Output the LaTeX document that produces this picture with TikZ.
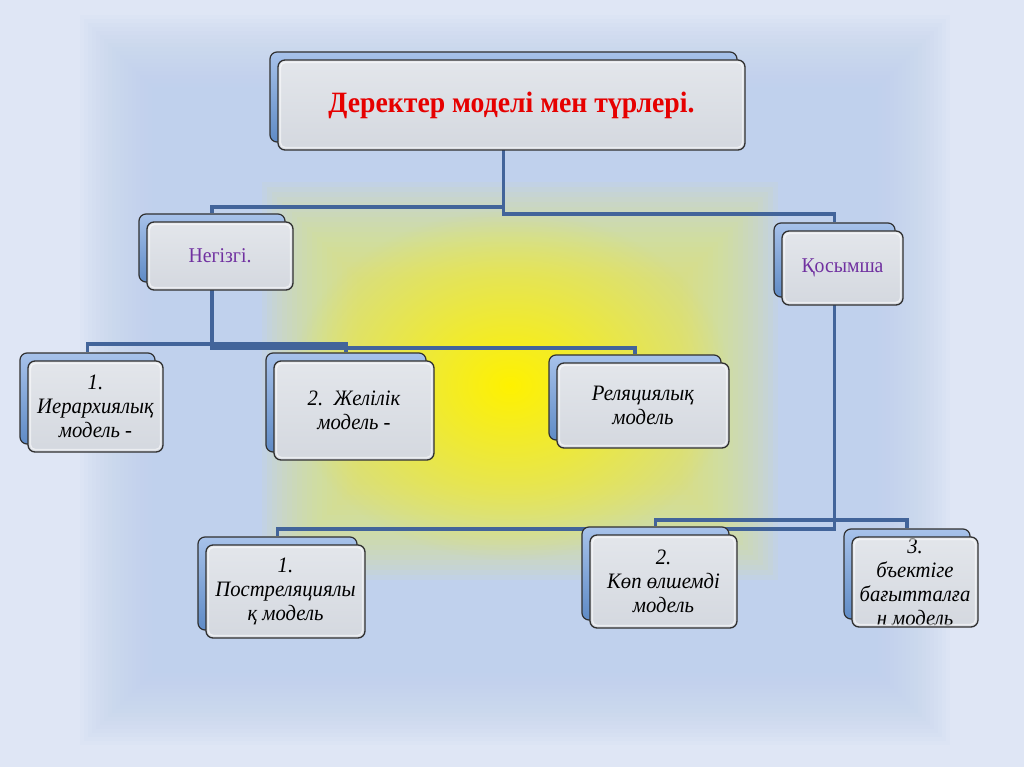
\documentclass[tikz,border=0pt]{standalone}
\usepackage{fontspec}
\setmainfont{Liberation Serif}[FakeStretch=0.94]
\usetikzlibrary{fadings,calc}
\definecolor{bgA}{HTML}{DFE6F5}
\definecolor{bgB}{HTML}{C0D1ED}
\definecolor{yel}{HTML}{E4EB70}
\definecolor{lineC}{HTML}{42649A}
\definecolor{frontT}{HTML}{E3E6EB}
\definecolor{frontB}{HTML}{D4D8DF}
\definecolor{backT}{HTML}{A7C2EA}
\definecolor{backB}{HTML}{5F8BC6}
\definecolor{edge}{HTML}{303030}
\definecolor{titleRed}{HTML}{E60000}
\definecolor{purp}{HTML}{7030A0}
\tikzfading[name=glowfade, inner color=transparent!0, outer color=transparent!100]
\pgfdeclarelayer{bg}
\pgfdeclarelayer{conn}
\pgfsetlayers{bg,conn,main}
\tikzset{
  backbox/.style={draw=edge, line width=1.2pt, rounded corners=7pt, top color=backT, bottom color=backB, inner sep=0pt},
  frontbox/.style={draw=edge, line width=1.3pt, rounded corners=7pt, top color=frontT, bottom color=frontB, inner sep=1pt, align=center, font=\fontsize{21}{24}\selectfont},
  shine/.style={draw=white, opacity=0.55, line width=1.5pt, rounded corners=5pt},
  conn/.style={draw=lineC, line width=3.6pt},
  plaintext/.style={text=black, font=\fontsize{22}{24}\selectfont\itshape},
  purptext/.style={text=purp},
  titletext/.style={text=titleRed, font=\fontsize{29.5}{32}\selectfont\bfseries}
}
\newcommand\twobox[7]{%
  \node[backbox, minimum width=#4pt, minimum height=#5pt] (#1b) at ({#2-8},{#3-8}) {};
  \node[frontbox, minimum width=#4pt, minimum height=#5pt, #6] (#1) at (#2,#3) {#7};
  \draw[shine] ([shift={(3pt,3pt)}]#1.south west) rectangle ([shift={(-3pt,-3pt)}]#1.north east);
}
\begin{document}
\begin{tikzpicture}[x=1pt,y=-1pt]
\useasboundingbox (0,0) rectangle (1024,767);
\begin{pgfonlayer}{bg}
  \fill[bgA] (0,0) rectangle (1024,767);
  \foreach \i in {0,...,19} {
    \fill[bgB, opacity=0.09] ({80+\i*4},{15+\i*4}) rectangle ({950-\i*4},{745-\i*4});
  }
  \foreach \i in {0,...,19} {
    \fill[yel, opacity=0.07] ({262+\i*5},{182+\i*5}) rectangle ({778-\i*5},{580-\i*5});
  }
  \fill[yellow, path fading=glowfade] (510,385) ellipse (220 and 175);
\end{pgfonlayer}

\twobox{t}{511.5}{105}{467}{90}{titletext}{Деректер моделі мен түрлері.}
\twobox{n}{220}{256}{146}{68}{purptext}{Негізгі.}
\twobox{q}{842.5}{268}{121}{74}{purptext}{Қосымша}
\twobox{h}{95.5}{406.5}{135}{91}{plaintext}{1.\\Иерархиялық\\модель -}
\twobox{z}{354}{410.5}{160}{99}{plaintext}{2.\ \ Желілік\\модель -}
\twobox{r}{643}{405.5}{172}{85}{plaintext}{Реляциялық\\модель}
\twobox{p}{285.5}{591.5}{159}{93}{plaintext}{1.\\Постреляциялы\\қ модель}
\twobox{k}{663.5}{581.5}{147}{93}{plaintext}{2.\\Көп өлшемді\\модель}
\twobox{o}{915}{582}{126}{90}{plaintext}{3.\\бъектіге\\бағытталға\\н модель}

\begin{pgfonlayer}{conn}
  \draw[conn] (tb.south) -- (tb.south |- 0,207) -| (nb.north);
  \draw[conn] (tb.south) -- (tb.south |- 0,214) -| (qb.north);
  \draw[conn] (nb.south) -- (nb.south |- 0,344) -| (hb.north);
  \draw[conn] (nb.south) -- (nb.south |- 0,344) -| (zb.north);
  \draw[conn] (nb.south) -- (nb.south |- 0,348) -| (rb.north);
  \draw[conn] (qb.south) -- (qb.south |- 0,529) -| (pb.north);
  \draw[conn] (qb.south) -- (qb.south |- 0,520) -| (kb.north);
  \draw[conn] (qb.south) -- (qb.south |- 0,520) -| (ob.north);
\end{pgfonlayer}
\end{tikzpicture}
\end{document}
